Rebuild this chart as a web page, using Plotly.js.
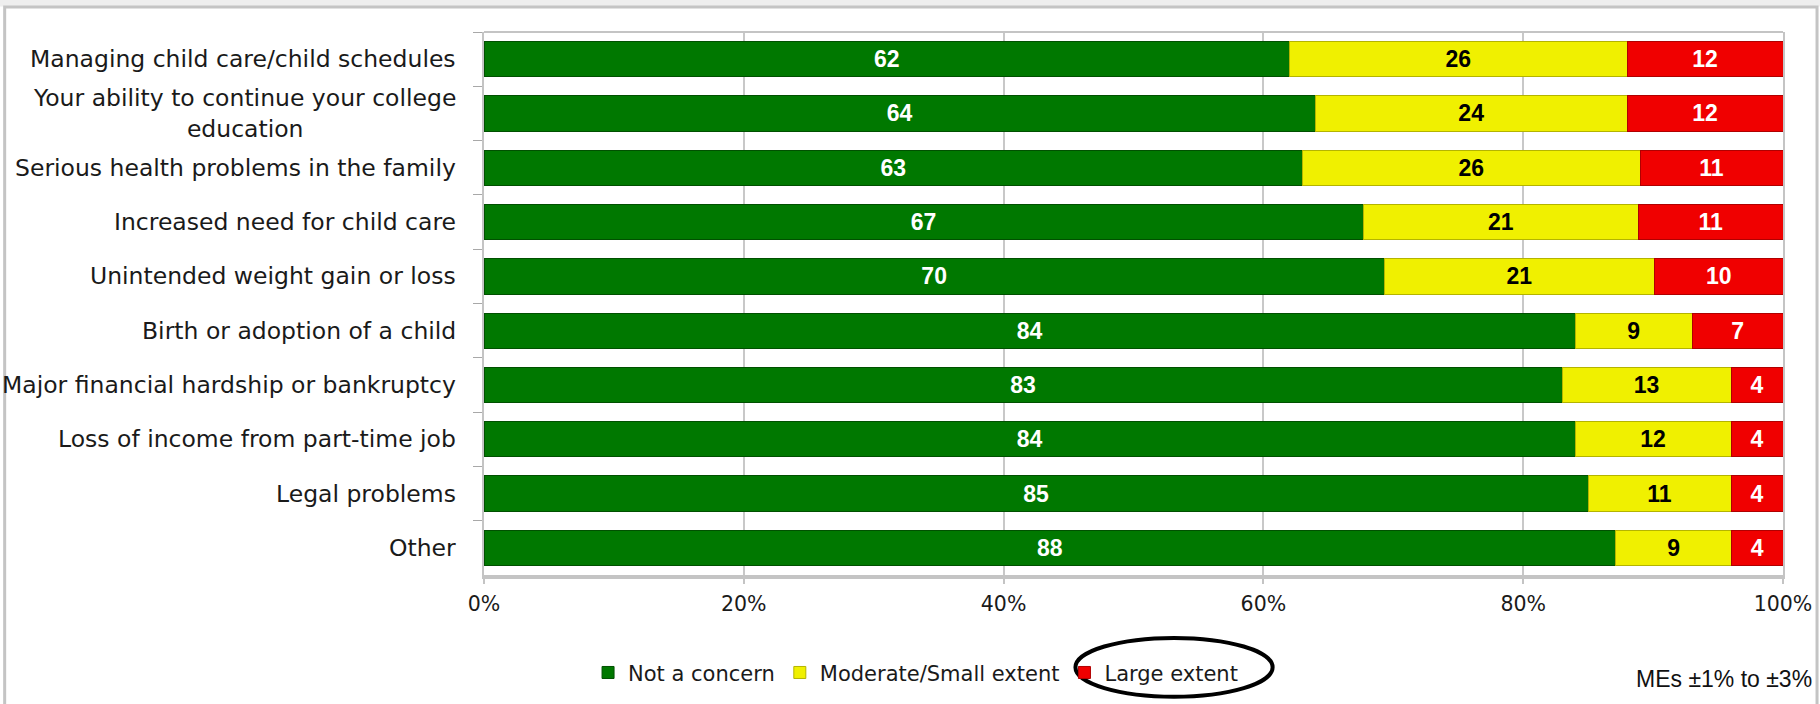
<!DOCTYPE html>
<html>
<head>
<meta charset="utf-8">
<script src="https://cdn.plot.ly/plotly-3.0.1.min.js"></script>
<style>
html,body{margin:0;padding:0;background:#fff;}
#chart{width:1820px;height:704px;}
</style>
</head>
<body>
<div id="chart"></div>
<script>
const categories = [
  "Managing child care/child schedules",
  "Your ability to continue your college education",
  "Serious health problems in the family",
  "Increased need for child care",
  "Unintended weight gain or loss",
  "Birth or adoption of a child",
  "Major financial hardship or bankruptcy",
  "Loss of income from part-time job",
  "Legal problems",
  "Other"
];
const tickLabels = [
  "Managing child care/child schedules",
  "Your ability to continue your college<br>education",
  "Serious health problems in the family",
  "Increased need for child care",
  "Unintended weight gain or loss",
  "Birth or adoption of a child",
  "Major financial hardship or bankruptcy",
  "Loss of income from part-time job",
  "Legal problems",
  "Other"
];
const seriesNames = ["Not a concern", "Moderate/Small extent", "Large extent"];
const notConcern = [62, 64, 63, 67, 70, 84, 83, 84, 85, 88];
const moderateSmall = [26, 24, 26, 21, 21, 9, 13, 12, 11, 9];
const largeExtent = [12, 12, 11, 11, 10, 7, 4, 4, 4, 4];
const xTickVals = [0, 20, 40, 60, 80, 100];
const xTickText = ["0%", "20%", "40%", "60%", "80%", "100%"];
const noteText = "MEs \u00b11% to \u00b13%";

const seriesValues = [notConcern, moderateSmall, largeExtent];
const fills = ["#007800", "#f0f000", "#f00000"];
const edges = ["#005000", "#b4b400", "#b00000"];
const textColors = ["#ffffff", "#000000", "#ffffff"];

const traces = seriesValues.map((vals, i) => ({
  type: "bar",
  orientation: "h",
  name: seriesNames[i],
  y: categories,
  x: vals,
  text: vals.map(String),
  texttemplate: "%{text}",
  textposition: "inside",
  insidetextanchor: "middle",
  textangle: 0,
  constraintext: "none",
  textfont: {family: "Liberation Sans, Arial, sans-serif", size: 23, color: textColors[i], weight: "bold"},
  marker: {color: fills[i], line: {color: edges[i], width: 1}},
  hoverinfo: "skip"
}));

const labelFont = {family: "DejaVu Sans, sans-serif", size: 23.5, color: "#1a1a1a"};
const annotations = categories.map((c, i) => ({
  xref: "paper", x: 0, xanchor: "right", xshift: -26,
  yref: "y", y: c, yanchor: "middle",
  text: tickLabels[i], showarrow: false, align: "center",
  font: labelFont
}));
annotations.push({
  xref: "paper", x: 1.0239, xanchor: "right",
  yref: "paper", y: -0.191, yanchor: "middle",
  text: noteText, showarrow: false,
  font: {family: "Liberation Sans, Arial, sans-serif", size: 23, color: "#111"}
});

const shapes = [
  {type: "rect", xref: "paper", yref: "paper", x0: -0.40, x1: 1.05, y0: 1.047, y1: 1.07,
   fillcolor: "#eeeeee", line: {width: 0}, layer: "below"},
  {type: "rect", xref: "paper", yref: "paper", x0: -0.369, x1: 1.0262, y0: -0.30, y1: 1.046,
   fillcolor: "rgba(0,0,0,0)", line: {color: "#c4c4c4", width: 3}, layer: "below"},
  {type: "line", xref: "paper", yref: "paper", x0: 0, x1: 1, y0: 1, y1: 1,
   line: {color: "#c4c4c4", width: 2}},
  {type: "circle", xref: "paper", yref: "paper", x0: 0.4553, x1: 0.6071, y0: -0.2243, y1: -0.1158,
   line: {color: "#000", width: 4}, fillcolor: "rgba(0,0,0,0)"}
];

const layout = {
  width: 1820, height: 704,
  margin: {l: 484, r: 37, t: 32, b: 128, pad: 0},
  paper_bgcolor: "#ffffff",
  plot_bgcolor: "#ffffff",
  barmode: "stack",
  barnorm: "percent",
  bargap: 0.35,
  showlegend: true,
  legend: {
    orientation: "h", x: 0.0801, xanchor: "left", y: -0.178, yanchor: "middle",
    font: {family: "DejaVu Sans, sans-serif", size: 21, color: "#1a1a1a"},
    traceorder: "normal", bgcolor: "rgba(0,0,0,0)", itemclick: false, itemdoubleclick: false
  },
  xaxis: {
    range: [0, 100], tickmode: "array", tickvals: xTickVals, ticktext: xTickText,
    showgrid: true, gridcolor: "#c8c8c8", gridwidth: 2,
    zeroline: false, showline: true, linecolor: "#c4c4c4", linewidth: 4,
    ticks: "outside", ticklen: 5, tickcolor: "#c4c4c4", tickwidth: 2,
    ticklabelstandoff: 2,
    tickfont: {family: "DejaVu Sans, sans-serif", size: 20.5, color: "#1a1a1a"},
    fixedrange: true
  },
  yaxis: {
    type: "category", autorange: "reversed",
    showticklabels: false, showgrid: false, zeroline: false,
    showline: true, linecolor: "#c4c4c4", linewidth: 2, mirror: true,
    ticks: "outside", tickson: "boundaries", ticklen: 9, tickcolor: "#a8a8a8", tickwidth: 1,
    fixedrange: true
  },
  annotations: annotations,
  shapes: shapes,
  font: {family: "DejaVu Sans, sans-serif"}
};

Plotly.newPlot("chart", traces, layout, {displayModeBar: false, staticPlot: true});
</script>
</body>
</html>
